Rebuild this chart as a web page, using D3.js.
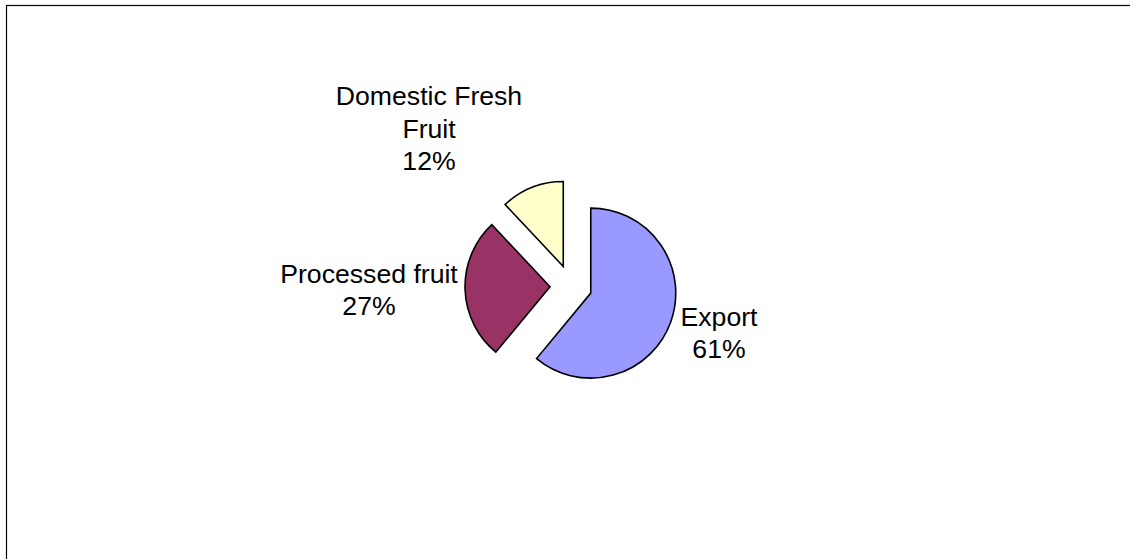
<!DOCTYPE html>
<html>
<head>
<meta charset="utf-8">
<script src="https://cdn.jsdelivr.net/npm/d3@7"></script>
<style>
  html, body { margin: 0; padding: 0; background: #fff; }
  svg { display: block; }
  text { font-family: "Liberation Sans", Arial, sans-serif; fill: #000; }
</style>
</head>
<body>
<svg id="chart" width="1130" height="559"></svg>
<script>
// Fruit use shares
const categories = ["Export", "Processed fruit", "Domestic Fresh Fruit"];
const shares = [61, 27, 12];
const labelLines = [["Export"], ["Processed fruit"], ["Domestic Fresh", "Fruit"]];
const sliceColors = ["#9999FF", "#993366", "#FFFFCC"];

// Layout
const W = 1130, H = 559;
const cx = 571, cy = 286, radius = 85, explode = 21;
const fontSize = 25, lineGap = 32.7, stretch = 1.065;
// label block placement (first baseline, centred) relative to the pie centre
const labelOffsets = [[148, 39.7], [-202, -3.3], [-142, -181]];

const svg = d3.select("#chart");

// chart-area frame
svg.append("rect")
  .attr("x", 6.5).attr("y", 5.5)
  .attr("width", W + 20).attr("height", H + 20)
  .attr("fill", "#fff")
  .attr("stroke", "#000").attr("stroke-width", 1.2);

const pie = d3.pie().sort(null).value(d => d).startAngle(0).endAngle(2 * Math.PI);
const arcs = pie(shares);
const arc = d3.arc().innerRadius(0).outerRadius(radius);

const g = svg.append("g").attr("transform", `translate(${cx},${cy})`);

g.selectAll("path.slice")
  .data(arcs)
  .join("path")
  .attr("class", "slice")
  .attr("d", arc)
  .attr("fill", (d, i) => sliceColors[i])
  .attr("stroke", "#000")
  .attr("stroke-width", 1.6)
  .attr("stroke-linejoin", "miter")
  .attr("transform", d => {
    const mid = (d.startAngle + d.endAngle) / 2;
    return `translate(${Math.sin(mid) * explode},${-Math.cos(mid) * explode})`;
  });

// data labels: category name lines + percentage
const total = d3.sum(shares);
const labels = g.selectAll("g.label")
  .data(arcs)
  .join("g")
  .attr("class", "label")
  .attr("transform", (d, i) => `translate(${labelOffsets[i][0]},${labelOffsets[i][1]}) scale(${stretch},1)`);

labels.each(function (d, i) {
  const lines = labelLines[i].concat([Math.round(d.data / total * 100) + "%"]);
  d3.select(this).selectAll("text")
    .data(lines)
    .join("text")
    .attr("x", 0)
    .attr("y", (t, k) => k * lineGap)
    .attr("text-anchor", "middle")
    .attr("font-size", fontSize)
    .text(t => t);
});
</script>
</body>
</html>
